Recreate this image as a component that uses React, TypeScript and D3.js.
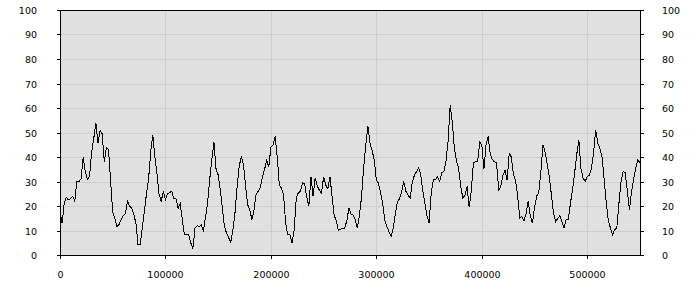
import React from "react";
import * as d3 from "d3";

const STEP = 2000;
const seriesValues: number[] = [
  18, 13, 21, 23.5, 22.5, 23, 24, 22, 30, 30,
  31, 40, 34, 31, 32, 42, 47.5, 54, 45.6, 50.8,
  49.5, 38, 44, 43, 30, 17.5, 15, 11.6, 12.5, 14.4,
  16, 17, 22, 20, 19, 16.5, 13, 4.2, 4.2, 11,
  18, 25, 31, 42, 49, 40, 33, 24.6, 22, 26,
  22.5, 25, 25.5, 26, 23, 23, 19, 21, 14.4, 8.2,
  8.2, 8.5, 5, 2.5, 11, 12, 11.4, 12.3, 10, 15.5,
  21.5, 31, 39, 46, 35, 32.7, 26.5, 19, 11.5, 8.8,
  7, 5.2, 10.3, 17.5, 28, 36.5, 40, 37, 28, 20.5,
  18.4, 14.4, 18.4, 25, 26, 27.5, 32, 35, 38.5, 36,
  44, 45, 48.5, 40, 28.6, 27.3, 24.5, 13, 8.2, 8.2,
  5, 10, 23, 25.5, 25.9, 29.5, 29, 23.5, 20, 32,
  24, 31.5, 28, 26.5, 25.2, 32, 28.5, 27, 32, 24,
  16, 14.2, 10, 10.5, 10.9, 11, 14, 19.2, 16.5, 16.3,
  14.3, 11, 16.3, 24, 36, 45, 52.5, 45.5, 42.5, 38.9,
  30.5, 29.3, 25.5, 21, 14.3, 11.5, 9.5, 7.5, 10.9, 17,
  21.8, 23, 26, 30, 26, 24.5, 23.2, 29.4, 32.5, 34,
  35.5, 33, 26.3, 21, 16, 13, 25, 30.7, 30.7, 32,
  30, 33.5, 34, 38.2, 46.4, 61, 54, 43.6, 38.5, 35.2,
  28, 23.2, 24.5, 28, 19.5, 26, 37.5, 38.2, 38.2, 46,
  45, 35, 45, 48.5, 41, 39, 38, 37.5, 26.5, 28,
  32.5, 34.5, 30.5, 41.6, 40, 32.7, 30.5, 24, 15, 15.7,
  14, 17, 22, 16, 13, 19.5, 24, 25.5, 34, 45,
  42, 37, 32, 24.5, 17, 13.5, 15, 16, 13.5, 11,
  14.4, 14.4, 21, 26.5, 33.5, 41, 47, 35.4, 31.4, 30,
  32, 32.5, 35.5, 42, 51, 45.6, 43.4, 40, 31, 21.5,
  14, 11, 8.2, 10.3, 11, 21, 30, 34, 33.5, 26,
  18.4, 26, 31, 35.5, 39, 37.5,
];

const yTicks: number[] = [0, 10, 20, 30, 40, 50, 60, 70, 80, 90, 100];
const xTicks: number[] = [0, 100000, 200000, 300000, 400000, 500000];
const xMax = 550000;

export default function App() {
  const W = 700;
  const H = 300;
  const left = 60;
  const right = 640;
  const top = 10;
  const bottom = 255;

  const x = d3.scaleLinear().domain([0, xMax]).range([left, right]);
  const y = d3.scaleLinear().domain([0, 100]).range([bottom, top]);

  const data = seriesValues.map((v, i) => ({ x: i * STEP, y: v }));
  const line = d3
    .line<{ x: number; y: number }>()
    .x((d) => x(d.x))
    .y((d) => y(d.y));

  const font = "'DejaVu Sans', Verdana, sans-serif";

  return (
    <svg
      width={W}
      height={H}
      style={{ position: "absolute", left: 0, top: 0, background: "#ffffff" }}
    >
      <rect x={left} y={top} width={right - left} height={bottom - top} fill="#e0e0e0" />
      {yTicks
        .filter((t) => t > 0 && t < 100)
        .map((t) => (
          <line
            key={"gy" + t}
            x1={left}
            x2={right}
            y1={Math.round(y(t)) + 0.5}
            y2={Math.round(y(t)) + 0.5}
            stroke="#cdcdcd"
            strokeWidth={1}
          />
        ))}
      {xTicks
        .filter((t) => t > 0)
        .map((t) => (
          <line
            key={"gx" + t}
            x1={Math.round(x(t)) + 0.5}
            x2={Math.round(x(t)) + 0.5}
            y1={top}
            y2={bottom}
            stroke="#cdcdcd"
            strokeWidth={1}
          />
        ))}
      <path
        d={line(data) || ""}
        fill="none"
        stroke="#000000"
        strokeWidth={1}
        shapeRendering="crispEdges"
      />
      <rect
        x={left + 0.5}
        y={top + 0.5}
        width={right - left}
        height={bottom - top}
        fill="none"
        stroke="#000000"
        strokeWidth={1}
      />
      {yTicks.map((t) => {
        const yy = Math.round(y(t)) + 0.5;
        return (
          <g key={"yt" + t}>
            <line x1={left - 3} x2={left} y1={yy} y2={yy} stroke="#000" />
            <line x1={right + 1} x2={right + 4} y1={yy} y2={yy} stroke="#000" />
            <text
              x={37}
              y={yy}
              textAnchor="end"
              dominantBaseline="central"
              fontFamily={font}
              fontSize={9.5}
              fill="#000"
            >
              {t}
            </text>
            <text
              x={662}
              y={yy}
              textAnchor="start"
              dominantBaseline="central"
              fontFamily={font}
              fontSize={9.5}
              fill="#000"
            >
              {t}
            </text>
          </g>
        );
      })}
      {xTicks.map((t) => {
        const xx = Math.round(x(t)) + 0.5;
        return (
          <g key={"xt" + t}>
            <line x1={xx} x2={xx} y1={bottom} y2={bottom + 4} stroke="#000" />
            <text
              x={xx}
              y={277.5}
              textAnchor="middle"
              fontFamily={font}
              fontSize={9.5}
              fill="#000"
            >
              {t}
            </text>
          </g>
        );
      })}
    </svg>
  );
}
